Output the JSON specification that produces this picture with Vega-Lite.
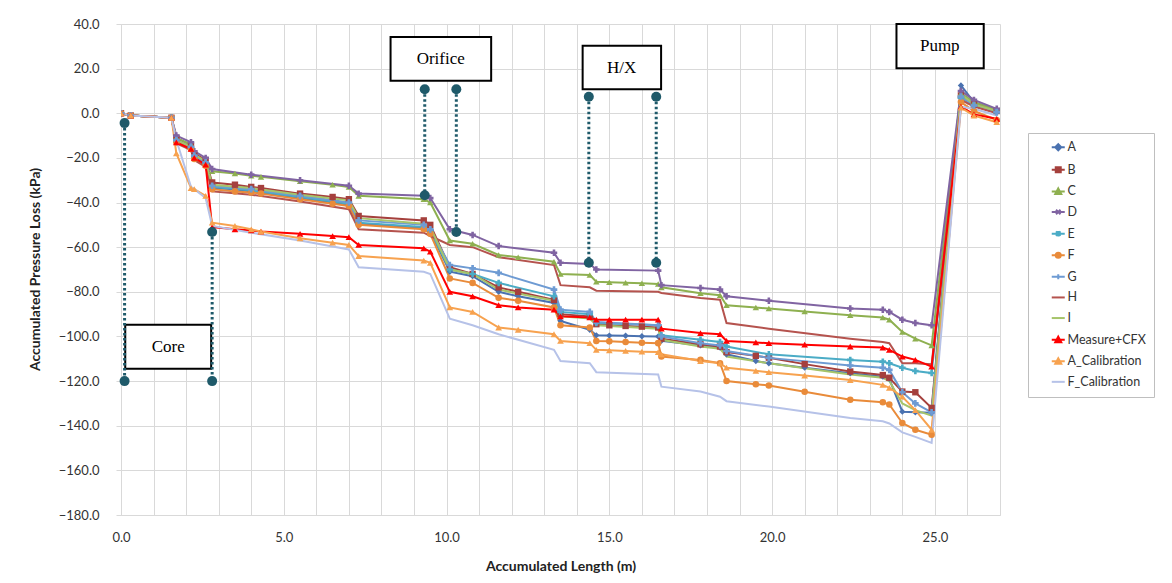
{
"$schema": "https://vega.github.io/schema/vega-lite/v6.json",
"width": 879, "height": 491,
"autosize": {"type": "none"},
"padding": {"left": 121, "top": 24, "right": 172, "bottom": 68},
"background": "white",
"config": {"view": {"stroke": null}, "font": "Lato"},
"resolve": {"axis": {"x": "independent"}},
"datasets": {
"d": [
{"s":"A","x":0,"y":0},{"s":"A","x":0.3,"y":-1},{"s":"A","x":1.55,"y":-2},{"s":"A","x":1.7,"y":-13},{"s":"A","x":2.15,"y":-16},{"s":"A","x":2.25,"y":-20},{"s":"A","x":2.6,"y":-23},{"s":"A","x":2.8,"y":-33.5},{"s":"A","x":4,"y":-35},{"s":"A","x":5.5,"y":-38},{"s":"A","x":7,"y":-41},{"s":"A","x":7.3,"y":-49.5},{"s":"A","x":9.3,"y":-51.5},{"s":"A","x":9.5,"y":-53},{"s":"A","x":10.1,"y":-71},{"s":"A","x":10.8,"y":-73},{"s":"A","x":11.6,"y":-80},{"s":"A","x":13.3,"y":-85},{"s":"A","x":13.5,"y":-93},{"s":"A","x":14.4,"y":-97},{"s":"A","x":14.6,"y":-99.5},{"s":"A","x":16.5,"y":-100},{"s":"A","x":16.6,"y":-102},{"s":"A","x":17.8,"y":-104},{"s":"A","x":18.4,"y":-105},{"s":"A","x":18.6,"y":-108},{"s":"A","x":19.9,"y":-112},{"s":"A","x":22.4,"y":-116.5},{"s":"A","x":23.4,"y":-118},{"s":"A","x":23.6,"y":-119},{"s":"A","x":24,"y":-133.7},{"s":"A","x":24.4,"y":-134},{"s":"A","x":24.9,"y":-134.2},{"s":"A","x":25.8,"y":12.5},{"s":"A","x":26.2,"y":5},{"s":"A","x":26.9,"y":1.5},
{"s":"A","x":3.5,"y":-34},{"s":"A","x":4.3,"y":-35.5},{"s":"A","x":6.5,"y":-40},{"s":"A","x":12.2,"y":-82},{"s":"A","x":15,"y":-99.6},{"s":"A","x":15.5,"y":-99.7},{"s":"A","x":16,"y":-99.9},{"s":"A","x":19.5,"y":-111},{"s":"A","x":21,"y":-114},
{"s":"B","x":0,"y":0},{"s":"B","x":0.3,"y":-1},{"s":"B","x":1.55,"y":-2},{"s":"B","x":1.7,"y":-11},{"s":"B","x":2.15,"y":-14.5},{"s":"B","x":2.25,"y":-18},{"s":"B","x":2.6,"y":-21},{"s":"B","x":2.8,"y":-31},{"s":"B","x":4,"y":-33},{"s":"B","x":5.5,"y":-36},{"s":"B","x":7,"y":-38.5},{"s":"B","x":7.3,"y":-46},{"s":"B","x":9.3,"y":-48},{"s":"B","x":9.5,"y":-50},{"s":"B","x":10.1,"y":-69},{"s":"B","x":10.8,"y":-72},{"s":"B","x":11.6,"y":-78},{"s":"B","x":13.3,"y":-83.6},{"s":"B","x":13.5,"y":-90},{"s":"B","x":14.4,"y":-91},{"s":"B","x":14.6,"y":-94.5},{"s":"B","x":16.5,"y":-96},{"s":"B","x":16.6,"y":-101},{"s":"B","x":17.8,"y":-103.5},{"s":"B","x":18.4,"y":-104.5},{"s":"B","x":18.6,"y":-107},{"s":"B","x":19.9,"y":-109.5},{"s":"B","x":22.4,"y":-115.7},{"s":"B","x":23.4,"y":-117.3},{"s":"B","x":23.6,"y":-118.5},{"s":"B","x":24,"y":-124.7},{"s":"B","x":24.4,"y":-125},{"s":"B","x":24.9,"y":-132},{"s":"B","x":25.8,"y":8},{"s":"B","x":26.2,"y":4},{"s":"B","x":26.9,"y":1},
{"s":"B","x":3.5,"y":-32},{"s":"B","x":4.3,"y":-33.5},{"s":"B","x":6.5,"y":-37.5},{"s":"B","x":12.2,"y":-80},{"s":"B","x":15,"y":-95},{"s":"B","x":15.5,"y":-95.3},{"s":"B","x":16,"y":-95.6},{"s":"B","x":19.5,"y":-108.7},{"s":"B","x":21,"y":-112.4},
{"s":"C","x":0,"y":0},{"s":"C","x":0.3,"y":-1},{"s":"C","x":1.55,"y":-2},{"s":"C","x":1.7,"y":-11},{"s":"C","x":2.15,"y":-14},{"s":"C","x":2.25,"y":-19},{"s":"C","x":2.6,"y":-22},{"s":"C","x":2.8,"y":-26},{"s":"C","x":4,"y":-28},{"s":"C","x":5.5,"y":-30.5},{"s":"C","x":7,"y":-33},{"s":"C","x":7.3,"y":-37},{"s":"C","x":9.3,"y":-38.5},{"s":"C","x":9.5,"y":-40},{"s":"C","x":10.1,"y":-57},{"s":"C","x":10.8,"y":-58.5},{"s":"C","x":11.6,"y":-63.5},{"s":"C","x":13.3,"y":-66.5},{"s":"C","x":13.5,"y":-72},{"s":"C","x":14.4,"y":-72.5},{"s":"C","x":14.6,"y":-75.5},{"s":"C","x":16.5,"y":-76.5},{"s":"C","x":16.6,"y":-78},{"s":"C","x":17.8,"y":-80.6},{"s":"C","x":18.4,"y":-81.5},{"s":"C","x":18.6,"y":-86},{"s":"C","x":19.9,"y":-87.5},{"s":"C","x":22.4,"y":-90.5},{"s":"C","x":23.4,"y":-91.5},{"s":"C","x":23.6,"y":-92.5},{"s":"C","x":24,"y":-98},{"s":"C","x":24.4,"y":-101},{"s":"C","x":24.9,"y":-104},{"s":"C","x":25.8,"y":9},{"s":"C","x":26.2,"y":5},{"s":"C","x":26.9,"y":1.5},
{"s":"C","x":3.5,"y":-27},{"s":"C","x":4.3,"y":-28.5},{"s":"C","x":6.5,"y":-32},{"s":"C","x":12.2,"y":-64.5},{"s":"C","x":15,"y":-75.7},{"s":"C","x":15.5,"y":-75.9},{"s":"C","x":16,"y":-76.2},{"s":"C","x":19.5,"y":-87},{"s":"C","x":21,"y":-88.8},
{"s":"D","x":0,"y":0},{"s":"D","x":0.3,"y":-1},{"s":"D","x":1.55,"y":-2},{"s":"D","x":1.7,"y":-10},{"s":"D","x":2.15,"y":-13},{"s":"D","x":2.25,"y":-17},{"s":"D","x":2.6,"y":-20},{"s":"D","x":2.8,"y":-25},{"s":"D","x":4,"y":-27.5},{"s":"D","x":5.5,"y":-30},{"s":"D","x":7,"y":-32.5},{"s":"D","x":7.3,"y":-36},{"s":"D","x":9.3,"y":-37},{"s":"D","x":9.5,"y":-38},{"s":"D","x":10.1,"y":-52},{"s":"D","x":10.8,"y":-54.5},{"s":"D","x":11.6,"y":-59.5},{"s":"D","x":13.3,"y":-62.5},{"s":"D","x":13.5,"y":-67},{"s":"D","x":14.4,"y":-67.5},{"s":"D","x":14.6,"y":-70},{"s":"D","x":16.5,"y":-70.5},{"s":"D","x":16.6,"y":-77},{"s":"D","x":17.8,"y":-78.3},{"s":"D","x":18.4,"y":-79},{"s":"D","x":18.6,"y":-82},{"s":"D","x":19.9,"y":-84},{"s":"D","x":22.4,"y":-87.5},{"s":"D","x":23.4,"y":-88},{"s":"D","x":23.6,"y":-89},{"s":"D","x":24,"y":-92.5},{"s":"D","x":24.4,"y":-94},{"s":"D","x":24.9,"y":-95},{"s":"D","x":25.8,"y":10},{"s":"D","x":26.2,"y":6},{"s":"D","x":26.9,"y":2},
{"s":"E","x":0,"y":0},{"s":"E","x":0.3,"y":-1},{"s":"E","x":1.55,"y":-2},{"s":"E","x":1.7,"y":-12.5},{"s":"E","x":2.15,"y":-15.5},{"s":"E","x":2.25,"y":-19.5},{"s":"E","x":2.6,"y":-22.5},{"s":"E","x":2.8,"y":-33},{"s":"E","x":4,"y":-34.5},{"s":"E","x":5.5,"y":-37.5},{"s":"E","x":7,"y":-40.5},{"s":"E","x":7.3,"y":-49},{"s":"E","x":9.3,"y":-51},{"s":"E","x":9.5,"y":-52.5},{"s":"E","x":10.1,"y":-70},{"s":"E","x":10.8,"y":-72},{"s":"E","x":11.6,"y":-76},{"s":"E","x":13.3,"y":-82},{"s":"E","x":13.5,"y":-89},{"s":"E","x":14.4,"y":-90},{"s":"E","x":14.6,"y":-94},{"s":"E","x":16.5,"y":-95},{"s":"E","x":16.6,"y":-99.5},{"s":"E","x":17.8,"y":-101.5},{"s":"E","x":18.4,"y":-102.5},{"s":"E","x":18.6,"y":-104.5},{"s":"E","x":19.9,"y":-108},{"s":"E","x":22.4,"y":-110.5},{"s":"E","x":23.4,"y":-111.3},{"s":"E","x":23.6,"y":-112},{"s":"E","x":24,"y":-114},{"s":"E","x":24.4,"y":-115.5},{"s":"E","x":24.9,"y":-116.4},{"s":"E","x":25.8,"y":7},{"s":"E","x":26.2,"y":3.5},{"s":"E","x":26.9,"y":0.5},
{"s":"F","x":0,"y":0},{"s":"F","x":0.3,"y":-1},{"s":"F","x":1.55,"y":-2},{"s":"F","x":1.7,"y":-13},{"s":"F","x":2.15,"y":-16},{"s":"F","x":2.25,"y":-20.5},{"s":"F","x":2.6,"y":-23.5},{"s":"F","x":2.8,"y":-34},{"s":"F","x":4,"y":-35.5},{"s":"F","x":5.5,"y":-38.5},{"s":"F","x":7,"y":-41.5},{"s":"F","x":7.3,"y":-50},{"s":"F","x":9.3,"y":-52},{"s":"F","x":9.5,"y":-54},{"s":"F","x":10.1,"y":-74},{"s":"F","x":10.8,"y":-76},{"s":"F","x":11.6,"y":-82.7},{"s":"F","x":13.3,"y":-87},{"s":"F","x":13.5,"y":-95},{"s":"F","x":14.4,"y":-96},{"s":"F","x":14.6,"y":-102},{"s":"F","x":16.5,"y":-103},{"s":"F","x":16.6,"y":-109},{"s":"F","x":17.8,"y":-110.5},{"s":"F","x":18.4,"y":-112},{"s":"F","x":18.6,"y":-120},{"s":"F","x":19.9,"y":-122},{"s":"F","x":22.4,"y":-128.4},{"s":"F","x":23.4,"y":-129.5},{"s":"F","x":23.6,"y":-130.5},{"s":"F","x":24,"y":-138.8},{"s":"F","x":24.4,"y":-141.8},{"s":"F","x":24.9,"y":-144},{"s":"F","x":25.8,"y":5},{"s":"F","x":26.2,"y":1},{"s":"F","x":26.9,"y":-3},
{"s":"F","x":3.5,"y":-35},{"s":"F","x":4.3,"y":-36},{"s":"F","x":6.5,"y":-40.5},{"s":"F","x":12.2,"y":-84},{"s":"F","x":15,"y":-102.2},{"s":"F","x":15.5,"y":-102.5},{"s":"F","x":16,"y":-102.8},{"s":"F","x":19.5,"y":-121.4},{"s":"F","x":21,"y":-124.8},
{"s":"G","x":0,"y":0},{"s":"G","x":0.3,"y":-1},{"s":"G","x":1.55,"y":-2},{"s":"G","x":1.7,"y":-12},{"s":"G","x":2.15,"y":-15},{"s":"G","x":2.25,"y":-19},{"s":"G","x":2.6,"y":-22},{"s":"G","x":2.8,"y":-32.5},{"s":"G","x":4,"y":-34},{"s":"G","x":5.5,"y":-37},{"s":"G","x":7,"y":-40},{"s":"G","x":7.3,"y":-48},{"s":"G","x":9.3,"y":-50},{"s":"G","x":9.5,"y":-52},{"s":"G","x":10.1,"y":-68},{"s":"G","x":10.8,"y":-69.5},{"s":"G","x":11.6,"y":-71.5},{"s":"G","x":13.3,"y":-79},{"s":"G","x":13.5,"y":-88},{"s":"G","x":14.4,"y":-89},{"s":"G","x":14.6,"y":-93.5},{"s":"G","x":16.5,"y":-95},{"s":"G","x":16.6,"y":-100},{"s":"G","x":17.8,"y":-103},{"s":"G","x":18.4,"y":-104},{"s":"G","x":18.6,"y":-106.5},{"s":"G","x":19.9,"y":-109.6},{"s":"G","x":22.4,"y":-113},{"s":"G","x":23.4,"y":-114},{"s":"G","x":23.6,"y":-115},{"s":"G","x":24,"y":-125},{"s":"G","x":24.4,"y":-130},{"s":"G","x":24.9,"y":-134},{"s":"G","x":25.8,"y":7.5},{"s":"G","x":26.2,"y":3.5},{"s":"G","x":26.9,"y":0.5},
{"s":"H","x":0,"y":0},{"s":"H","x":0.3,"y":-1},{"s":"H","x":1.55,"y":-2},{"s":"H","x":1.7,"y":-13.5},{"s":"H","x":2.15,"y":-16.5},{"s":"H","x":2.25,"y":-21},{"s":"H","x":2.6,"y":-24},{"s":"H","x":2.8,"y":-35},{"s":"H","x":4,"y":-36.5},{"s":"H","x":5.5,"y":-39.5},{"s":"H","x":7,"y":-43},{"s":"H","x":7.3,"y":-52},{"s":"H","x":9.3,"y":-53.5},{"s":"H","x":9.5,"y":-55},{"s":"H","x":10.1,"y":-59},{"s":"H","x":10.8,"y":-60},{"s":"H","x":11.6,"y":-64.5},{"s":"H","x":13.3,"y":-68},{"s":"H","x":13.5,"y":-77},{"s":"H","x":14.4,"y":-78},{"s":"H","x":14.6,"y":-79.5},{"s":"H","x":16.5,"y":-80},{"s":"H","x":16.6,"y":-80.5},{"s":"H","x":17.8,"y":-82.8},{"s":"H","x":18.4,"y":-83.5},{"s":"H","x":18.6,"y":-94},{"s":"H","x":19.9,"y":-96.5},{"s":"H","x":22.4,"y":-101},{"s":"H","x":23.4,"y":-102.5},{"s":"H","x":23.6,"y":-103},{"s":"H","x":24,"y":-112},{"s":"H","x":24.4,"y":-112},{"s":"H","x":24.9,"y":-112.5},{"s":"H","x":25.8,"y":6},{"s":"H","x":26.2,"y":3},{"s":"H","x":26.9,"y":0},
{"s":"I","x":0,"y":0},{"s":"I","x":0.3,"y":-1},{"s":"I","x":1.55,"y":-2},{"s":"I","x":1.7,"y":-12},{"s":"I","x":2.15,"y":-15},{"s":"I","x":2.25,"y":-18.5},{"s":"I","x":2.6,"y":-21.5},{"s":"I","x":2.8,"y":-32},{"s":"I","x":4,"y":-33.5},{"s":"I","x":5.5,"y":-36.5},{"s":"I","x":7,"y":-39},{"s":"I","x":7.3,"y":-47},{"s":"I","x":9.3,"y":-49.5},{"s":"I","x":9.5,"y":-51},{"s":"I","x":10.1,"y":-70},{"s":"I","x":10.8,"y":-72},{"s":"I","x":11.6,"y":-79},{"s":"I","x":13.3,"y":-84},{"s":"I","x":13.5,"y":-91},{"s":"I","x":14.4,"y":-92},{"s":"I","x":14.6,"y":-95},{"s":"I","x":16.5,"y":-96.5},{"s":"I","x":16.6,"y":-101.5},{"s":"I","x":17.8,"y":-104.5},{"s":"I","x":18.4,"y":-105.5},{"s":"I","x":18.6,"y":-109},{"s":"I","x":19.9,"y":-112},{"s":"I","x":22.4,"y":-117},{"s":"I","x":23.4,"y":-118.5},{"s":"I","x":23.6,"y":-120},{"s":"I","x":24,"y":-130},{"s":"I","x":24.4,"y":-133},{"s":"I","x":24.9,"y":-135.5},{"s":"I","x":25.8,"y":8.5},{"s":"I","x":26.2,"y":4},{"s":"I","x":26.9,"y":1},
{"s":"Measure+CFX","x":0,"y":0},{"s":"Measure+CFX","x":0.3,"y":-1},{"s":"Measure+CFX","x":1.55,"y":-2},{"s":"Measure+CFX","x":1.7,"y":-13},{"s":"Measure+CFX","x":2.15,"y":-16},{"s":"Measure+CFX","x":2.25,"y":-20},{"s":"Measure+CFX","x":2.6,"y":-23},{"s":"Measure+CFX","x":2.8,"y":-51},{"s":"Measure+CFX","x":4,"y":-52.5},{"s":"Measure+CFX","x":5.5,"y":-54},{"s":"Measure+CFX","x":7,"y":-55.5},{"s":"Measure+CFX","x":7.3,"y":-59},{"s":"Measure+CFX","x":9.3,"y":-60.5},{"s":"Measure+CFX","x":9.5,"y":-62},{"s":"Measure+CFX","x":10.1,"y":-80},{"s":"Measure+CFX","x":10.8,"y":-82},{"s":"Measure+CFX","x":11.6,"y":-86},{"s":"Measure+CFX","x":13.3,"y":-88},{"s":"Measure+CFX","x":13.5,"y":-91},{"s":"Measure+CFX","x":14.4,"y":-91.5},{"s":"Measure+CFX","x":14.6,"y":-92.5},{"s":"Measure+CFX","x":16.5,"y":-92.5},{"s":"Measure+CFX","x":16.6,"y":-96.5},{"s":"Measure+CFX","x":17.8,"y":-98.5},{"s":"Measure+CFX","x":18.4,"y":-99},{"s":"Measure+CFX","x":18.6,"y":-102},{"s":"Measure+CFX","x":19.9,"y":-103},{"s":"Measure+CFX","x":22.4,"y":-104.5},{"s":"Measure+CFX","x":23.4,"y":-105},{"s":"Measure+CFX","x":23.6,"y":-106},{"s":"Measure+CFX","x":24,"y":-109},{"s":"Measure+CFX","x":24.4,"y":-110.5},{"s":"Measure+CFX","x":24.9,"y":-113.5},{"s":"Measure+CFX","x":25.8,"y":3},{"s":"Measure+CFX","x":26.2,"y":-0.5},{"s":"Measure+CFX","x":26.9,"y":-2.5},
{"s":"Measure+CFX","x":3.5,"y":-52},{"s":"Measure+CFX","x":4.3,"y":-53},{"s":"Measure+CFX","x":6.5,"y":-55},{"s":"Measure+CFX","x":12.2,"y":-87},{"s":"Measure+CFX","x":15,"y":-92.5},{"s":"Measure+CFX","x":15.5,"y":-92.5},{"s":"Measure+CFX","x":16,"y":-92.5},{"s":"Measure+CFX","x":19.5,"y":-102.7},{"s":"Measure+CFX","x":21,"y":-103.7},
{"s":"A_Calibration","x":0,"y":0},{"s":"A_Calibration","x":0.3,"y":-1},{"s":"A_Calibration","x":1.55,"y":-2},{"s":"A_Calibration","x":1.7,"y":-18},{"s":"A_Calibration","x":2.15,"y":-33.5},{"s":"A_Calibration","x":2.25,"y":-34},{"s":"A_Calibration","x":2.6,"y":-37},{"s":"A_Calibration","x":2.8,"y":-49},{"s":"A_Calibration","x":4,"y":-52},{"s":"A_Calibration","x":5.5,"y":-56},{"s":"A_Calibration","x":7,"y":-59},{"s":"A_Calibration","x":7.3,"y":-64},{"s":"A_Calibration","x":9.3,"y":-66},{"s":"A_Calibration","x":9.5,"y":-67},{"s":"A_Calibration","x":10.1,"y":-87},{"s":"A_Calibration","x":10.8,"y":-89},{"s":"A_Calibration","x":11.6,"y":-96},{"s":"A_Calibration","x":13.3,"y":-99},{"s":"A_Calibration","x":13.5,"y":-102},{"s":"A_Calibration","x":14.4,"y":-103},{"s":"A_Calibration","x":14.6,"y":-106},{"s":"A_Calibration","x":16.5,"y":-107},{"s":"A_Calibration","x":16.6,"y":-108},{"s":"A_Calibration","x":17.8,"y":-111},{"s":"A_Calibration","x":18.4,"y":-112},{"s":"A_Calibration","x":18.6,"y":-114},{"s":"A_Calibration","x":19.9,"y":-116},{"s":"A_Calibration","x":22.4,"y":-119.5},{"s":"A_Calibration","x":23.4,"y":-121.7},{"s":"A_Calibration","x":23.6,"y":-123},{"s":"A_Calibration","x":24,"y":-127},{"s":"A_Calibration","x":24.4,"y":-133},{"s":"A_Calibration","x":24.9,"y":-141.8},{"s":"A_Calibration","x":25.8,"y":2.5},{"s":"A_Calibration","x":26.2,"y":-1},{"s":"A_Calibration","x":26.9,"y":-4},
{"s":"A_Calibration","x":3.5,"y":-50.5},{"s":"A_Calibration","x":4.3,"y":-53},{"s":"A_Calibration","x":6.5,"y":-58},{"s":"A_Calibration","x":12.2,"y":-97},{"s":"A_Calibration","x":15,"y":-106.2},{"s":"A_Calibration","x":15.5,"y":-106.5},{"s":"A_Calibration","x":16,"y":-106.8},{"s":"A_Calibration","x":19.5,"y":-115.4},{"s":"A_Calibration","x":21,"y":-117.5},
{"s":"F_Calibration","x":0,"y":0},{"s":"F_Calibration","x":0.3,"y":-1},{"s":"F_Calibration","x":1.55,"y":-2},{"s":"F_Calibration","x":1.7,"y":-12},{"s":"F_Calibration","x":2.15,"y":-33},{"s":"F_Calibration","x":2.25,"y":-34},{"s":"F_Calibration","x":2.6,"y":-38},{"s":"F_Calibration","x":2.8,"y":-50.5},{"s":"F_Calibration","x":4,"y":-53.5},{"s":"F_Calibration","x":5.5,"y":-57},{"s":"F_Calibration","x":7,"y":-61},{"s":"F_Calibration","x":7.3,"y":-69},{"s":"F_Calibration","x":9.3,"y":-71},{"s":"F_Calibration","x":9.5,"y":-72},{"s":"F_Calibration","x":10.1,"y":-92},{"s":"F_Calibration","x":10.8,"y":-95},{"s":"F_Calibration","x":11.6,"y":-99},{"s":"F_Calibration","x":13.3,"y":-106},{"s":"F_Calibration","x":13.5,"y":-111},{"s":"F_Calibration","x":14.4,"y":-112},{"s":"F_Calibration","x":14.6,"y":-116},{"s":"F_Calibration","x":16.5,"y":-117},{"s":"F_Calibration","x":16.6,"y":-122.5},{"s":"F_Calibration","x":17.8,"y":-124.7},{"s":"F_Calibration","x":18.4,"y":-127},{"s":"F_Calibration","x":18.6,"y":-129},{"s":"F_Calibration","x":19.9,"y":-131.4},{"s":"F_Calibration","x":22.4,"y":-136.5},{"s":"F_Calibration","x":23.4,"y":-138},{"s":"F_Calibration","x":23.6,"y":-139},{"s":"F_Calibration","x":24,"y":-143},{"s":"F_Calibration","x":24.4,"y":-145},{"s":"F_Calibration","x":24.9,"y":-147.7},{"s":"F_Calibration","x":25.8,"y":3},{"s":"F_Calibration","x":26.2,"y":2},{"s":"F_Calibration","x":26.9,"y":-1}
],
"rules": [
{"x":0.11,"y1":-4.4,"y2":-120},{"x":2.8,"y1":-53.2,"y2":-120},
{"x":9.33,"y1":10.8,"y2":-36.7},{"x":10.3,"y1":10.8,"y2":-53.2},
{"x":14.37,"y1":7.4,"y2":-67},{"x":16.44,"y1":7.4,"y2":-67}
],
"dots": [
{"x":0.11,"y":-4.4},{"x":0.11,"y":-120},{"x":2.8,"y":-53.2},{"x":2.8,"y":-120},
{"x":9.33,"y":10.8},{"x":9.33,"y":-36.7},{"x":10.3,"y":10.8},{"x":10.3,"y":-53.2},
{"x":14.37,"y":7.4},{"x":14.37,"y":-67},{"x":16.44,"y":7.4},{"x":16.44,"y":-67}
],
"boxes": [
{"label":"Core","x1":0.13,"x2":2.77,"y1":-94.8,"y2":-114.5,"tx":1.45,"ty":-104.7},
{"label":"Orifice","x1":8.28,"x2":11.37,"y1":34.2,"y2":14.6,"tx":9.82,"ty":24.4},
{"label":"H/X","x1":14.18,"x2":16.59,"y1":30.3,"y2":10.75,"tx":15.38,"ty":20.5},
{"label":"Pump","x1":23.82,"x2":26.5,"y1":40,"y2":20.2,"tx":25.15,"ty":30}
]
},
"layer": [
{
"data": {"name": "d"},
"mark": {"type": "line", "strokeWidth": 2, "clip": true},
"encoding": {
"x": {"field": "x", "type": "quantitative",
 "scale": {"domain": [0, 27], "nice": false, "zero": false},
 "axis": {"orient": "bottom", "values": [0,5,10,15,20,25], "format": ".1f", "grid": false,
  "labelFlush": false, "labelOverlap": false,
  "title": "Accumulated Length (m)", "domainColor": "#d9d9d9", "tickSize": 0, "labelPadding": 16,
  "labelFontSize": 13, "labelColor": "#333333", "labelFont": "Lato", "titleFont": "Lato",
  "titleFontSize": 14, "titleFontWeight": "bold", "titleColor": "#222222", "titlePadding": 15}},
"y": {"field": "y", "type": "quantitative",
 "scale": {"domain": [-180, 40], "nice": false, "zero": false},
 "axis": {"values": [-180,-160,-140,-120,-100,-80,-60,-40,-20,0,20,40], "format": ".1f",
  "labelFlush": false, "labelOverlap": false,
  "title": "Accumulated Pressure Loss (kPa)", "gridColor": "#d9d9d9", "gridWidth": 1,
  "domainColor": "#d9d9d9", "tickColor": "#d9d9d9", "tickSize": 5, "labelPadding": 17,
  "labelFontSize": 13, "labelColor": "#333333", "labelFont": "Lato", "titleFont": "Lato",
  "titleFontSize": 14, "titleFontWeight": "bold", "titleColor": "#222222",
  "titleX": -86, "titleY": 245, "titleAlign": "center", "titleBaseline": "middle"}},
"color": {"field": "s", "type": "nominal",
 "scale": {"domain": ["A","B","C","D","E","F","G","H","I","Measure+CFX","A_Calibration","F_Calibration"],
  "range": ["#4A72B0","#A5403D","#8EB050","#8064A2","#4BACC6","#E98B3A","#6E9BD3","#B5534E","#A6C46A","#FF0000","#F7A24F","#B6C2E8"]},
 "legend": {"title": null, "orient": "none", "legendX": 907, "legendY": 109,
  "strokeColor": "#bfbfbf", "padding": 8, "symbolOffset": 16, "labelOffset": 3,
  "symbolSize": 100, "symbolType": "stroke", "rowPadding": 7.6, "labelFontSize": 12.5,
  "labelFont": "Lato", "labelColor": "#333333", "labelLimit": 130,
  "encode": {"symbols": {"update": {
   "shape": {"signal": "datum.value==='A'?'M-1.3,0H1.3M0,-0.6L0.6,0L0,0.6L-0.6,0Z':datum.value==='B'?'M-1.3,0H1.3M-0.5,-0.5H0.5V0.5H-0.5Z':datum.value==='C'||datum.value==='Measure+CFX'||datum.value==='A_Calibration'?'M-1.3,0H1.3M0,-0.6L0.6,0.5H-0.6Z':datum.value==='D'?'M-1.3,0H1.3M-0.45,-0.45L0.45,0.45M-0.45,0.45L0.45,-0.45':datum.value==='E'?'M-1.3,0H1.3M-0.45,-0.45L0.45,0.45M-0.45,0.45L0.45,-0.45M0,-0.55V0.55':datum.value==='F'?'M-1.3,0H1.3M0.5,0A0.5,0.5,0,1,1,-0.5,0A0.5,0.5,0,1,1,0.5,0Z':datum.value==='G'?'M-1.3,0H1.3M0,-0.5V0.5':'M-1.3,0H1.3'"},
   "fill": {"signal": "scale('color', datum.value)"},
   "stroke": {"signal": "scale('color', datum.value)"},
   "strokeWidth": {"value": 1.5},
   "size": {"value": 100}}}}}},
"strokeWidth": {"field": "s", "type": "nominal", "legend": null,
 "scale": {"domain": ["A","B","C","D","E","F","G","H","I","Measure+CFX","A_Calibration","F_Calibration"],
  "range": [2,2,2,2,2,2,2,2,2,2,2,1.5]}}
}
},
{
"data": {"name": "d"},
"transform": [{"filter": "datum.s!=='H' && datum.s!=='I' && datum.s!=='F_Calibration'"}],
"mark": {"type": "point", "filled": true, "opacity": 1, "clip": true},
"encoding": {
"x": {"field": "x", "type": "quantitative",
 "axis": {"orient": "top", "values": [0,1,2,3,4,5,6,7,8,9,10,11,12,13,14,15,16,17,18,19,20,21,22,23,24,25,26,27],
  "grid": true, "gridColor": "#d9d9d9", "gridWidth": 1, "labels": false, "ticks": false, "domain": false, "title": null}},
"y": {"field": "y", "type": "quantitative"},
"color": {"field": "s", "type": "nominal", "legend": null},
"shape": {"field": "s", "type": "nominal", "legend": null,
 "scale": {"domain": ["A","B","C","D","E","F","G","Measure+CFX","A_Calibration"],
  "range": ["diamond","square","triangle-up","cross","cross","circle","cross","triangle-up","triangle-up"]}},
"size": {"field": "s", "type": "nominal", "legend": null,
 "scale": {"domain": ["A","B","C","D","E","F","G","Measure+CFX","A_Calibration"],
  "range": [40,45,50,15,15,55,15,75,55]}}
}
},
{
"data": {"name": "boxes"},
"mark": {"type": "rect", "fill": "white", "stroke": "black", "strokeWidth": 2},
"encoding": {
"x": {"field": "x1", "type": "quantitative", "axis": null}, "x2": {"field": "x2"},
"y": {"field": "y1", "type": "quantitative"}, "y2": {"field": "y2"}
}
},
{
"data": {"name": "boxes"},
"mark": {"type": "text", "font": "Liberation Serif", "fontSize": 17, "color": "black", "align": "center", "baseline": "middle"},
"encoding": {
"x": {"field": "tx", "type": "quantitative", "axis": null},
"y": {"field": "ty", "type": "quantitative"},
"text": {"field": "label"}
}
},
{
"data": {"name": "rules"},
"mark": {"type": "rule", "color": "#1F5A6A", "strokeWidth": 3, "strokeDash": [2.5, 2.5]},
"encoding": {
"x": {"field": "x", "type": "quantitative", "axis": null},
"y": {"field": "y1", "type": "quantitative"}, "y2": {"field": "y2"}
}
},
{
"data": {"name": "dots"},
"mark": {"type": "circle", "color": "#1F5A6A", "opacity": 1, "size": 100},
"encoding": {
"x": {"field": "x", "type": "quantitative", "axis": null},
"y": {"field": "y", "type": "quantitative"}
}
}
]
}
